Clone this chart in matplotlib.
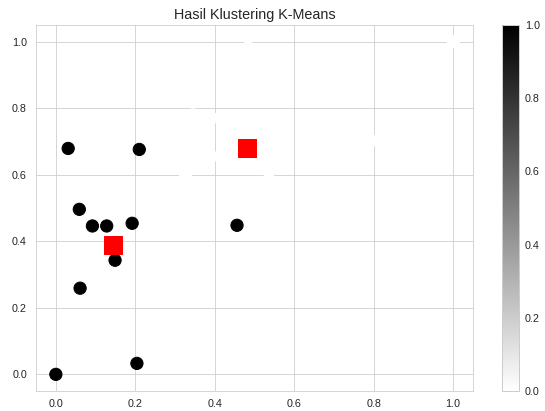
import matplotlib
matplotlib.use("Agg")
import matplotlib.pyplot as plt
import seaborn as sns
import numpy as np

# Cluster 1 (black) points
x_c1 = [0.0, 0.031, 0.059, 0.092, 0.128, 0.192, 0.210, 0.149, 0.061, 0.204, 0.456]
y_c1 = [0.0, 0.679, 0.496, 0.446, 0.446, 0.454, 0.676, 0.343, 0.259, 0.033, 0.448]
# Cluster 0 (white) points
x_c0 = [0.345, 0.412, 0.391, 0.326, 0.536, 0.810, 0.484, 1.0]
y_c0 = [0.818, 0.770, 0.655, 0.602, 0.585, 0.703, 0.982, 1.0]
# Centroids
x_cent = [0.143, 0.481]
y_cent = [0.389, 0.679]

title = "Hasil Klustering K-Means"

sns.set_style("whitegrid")
plt.rcParams['font.family'] = ['Liberation Sans', 'DejaVu Sans']
plt.rcParams['text.color'] = '.15'
plt.rcParams['xtick.color'] = '.15'
plt.rcParams['ytick.color'] = '.15'

W, H = 545, 411
dpi = 72
fig = plt.figure(figsize=(W / dpi, H / dpi), dpi=dpi)

ax = fig.add_axes([36 / W, (H - 391) / H, (473 - 36) / W, (391 - 25) / H])
cax = fig.add_axes([502 / W, (H - 391) / H, 17 / W, (391 - 25) / H])

xs = np.array(x_c1 + x_c0)
ys = np.array(y_c1 + y_c0)
labels = np.array([1] * len(x_c1) + [0] * len(x_c0), dtype=float)

sc = ax.scatter(xs, ys, c=labels, cmap='gray_r', s=150, vmin=0, vmax=1)
ax.scatter(x_cent, y_cent, c='red', marker='s', s=310)

ax.set_title(title, fontsize=14.4, pad=6)
ax.tick_params(axis='both', labelsize=10.8, length=0)
ax.tick_params(axis='x', pad=8)
ax.tick_params(axis='y', pad=9)
ax.set_xticks(np.arange(0, 1.01, 0.2))
ax.set_yticks(np.arange(0, 1.01, 0.2))

cb = fig.colorbar(sc, cax=cax)
cb.set_ticks(np.arange(0, 1.01, 0.2))
cb.ax.tick_params(labelsize=10.8, length=0, pad=6)
cb.outline.set_edgecolor('.8')
cb.outline.set_linewidth(1.0)

fig.savefig("out.png", dpi=dpi)
